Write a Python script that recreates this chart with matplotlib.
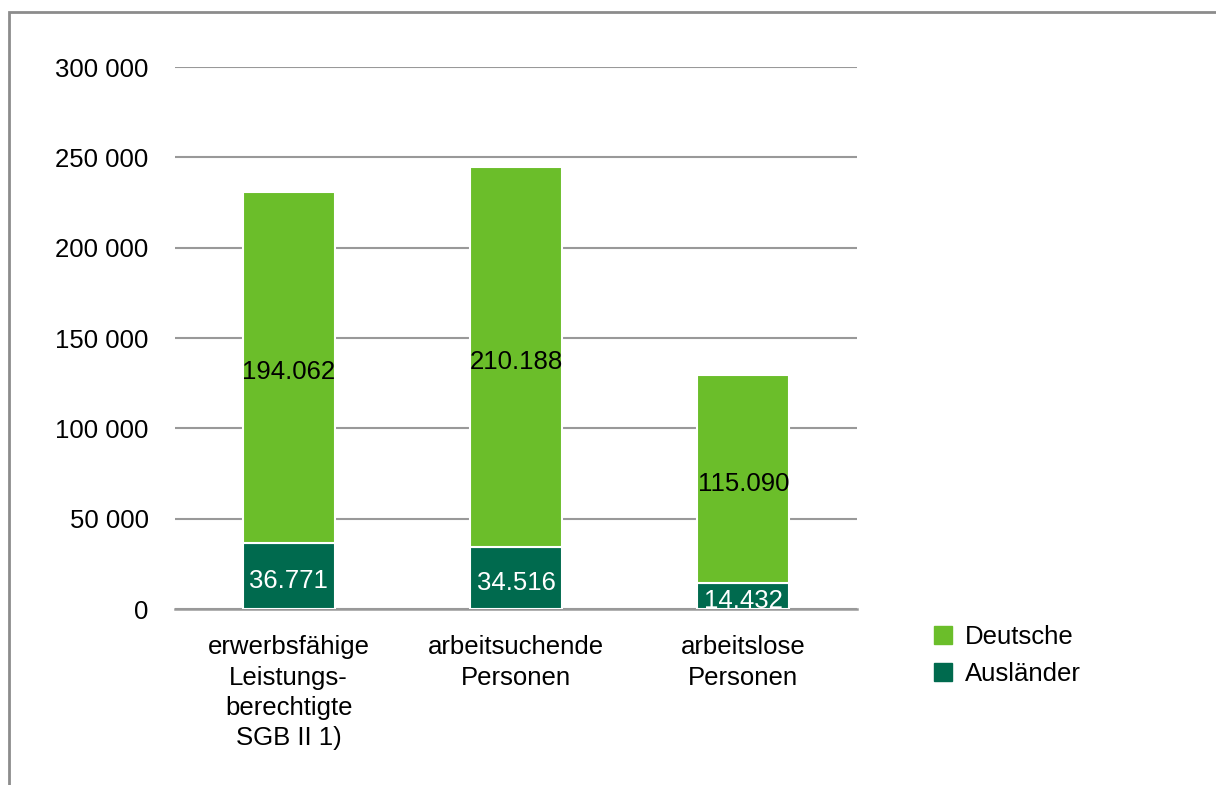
import matplotlib.pyplot as plt
from matplotlib.patches import Rectangle, Patch

plt.rcParams['font.family'] = ['Liberation Sans', 'DejaVu Sans']

# Daten
kategorien = ['erwerbsfähige\nLeistungs-\nberechtigte\nSGB II 1)',
              'arbeitsuchende\nPersonen',
              'arbeitslose\nPersonen']
auslaender = [36771, 34516, 14432]
deutsche = [194062, 210188, 115090]
y_ticks = [0, 50000, 100000, 150000, 200000, 250000, 300000]

hellgruen = '#6BBE2A'
dunkelgruen = '#006A4E'
fs = 18.5


def de_zahl(v):
    return f'{v:,}'.replace(',', '.')


fig = plt.figure(figsize=(12.16, 7.85), dpi=100)
ax = fig.add_axes([0.1439, 0.2242, 0.5609, 0.6904])

x = list(range(len(kategorien)))
breite = 0.405
ax.bar(x, auslaender, breite, color=dunkelgruen, edgecolor='white', linewidth=1.5, zorder=3)
ax.bar(x, deutsche, breite, bottom=auslaender, color=hellgruen, edgecolor='white', linewidth=1.5, zorder=3)

# Beschriftungen in den Balken
for i in x:
    ax.annotate(de_zahl(auslaender[i]), (i, auslaender[i] / 2), xytext=(0, -3.5),
                textcoords='offset points', ha='center', va='center',
                color='white', fontsize=fs, zorder=4)
    ax.annotate(de_zahl(deutsche[i]), (i, auslaender[i] + deutsche[i] / 2), xytext=(0, -3.5),
                textcoords='offset points', ha='center', va='center',
                color='black', fontsize=fs, zorder=4)

ax.set_xlim(-0.5, 2.5)
ax.set_ylim(0, 300000)
ax.set_yticks(y_ticks)
ax.set_yticklabels([f'{v:,}'.replace(',', ' ') for v in y_ticks], fontsize=fs)
ax.set_xticks(x)
ax.set_xticklabels(kategorien, fontsize=fs, linespacing=1.33)
ax.tick_params(axis='both', length=0)
ax.tick_params(axis='y', pad=19)
ax.tick_params(axis='x', pad=19)
ax.yaxis.grid(True, color='#999999', linewidth=1.5, zorder=0)
ax.set_axisbelow(True)
for s in ['top', 'right', 'left']:
    ax.spines[s].set_visible(False)
ax.spines['bottom'].set_color('#999999')
ax.spines['bottom'].set_linewidth(1.8)

# Legende
handles = [Patch(color=hellgruen, label='Deutsche'),
           Patch(color=dunkelgruen, label='Ausländer')]
fig.legend(handles=handles, loc='upper left', bbox_to_anchor=(0.7595, 0.217),
           frameon=False, fontsize=fs, handlelength=0.72, handleheight=0.72,
           handletextpad=0.5, labelspacing=0.5, borderaxespad=0)

# Rahmen
fig.patches.append(Rectangle((9 / 1216, -0.1), 1.2, 1.1 - 12 / 785, transform=fig.transFigure,
                             fill=False, edgecolor='#8c8c8c', linewidth=2))

fig.savefig('out.png', dpi=100)
